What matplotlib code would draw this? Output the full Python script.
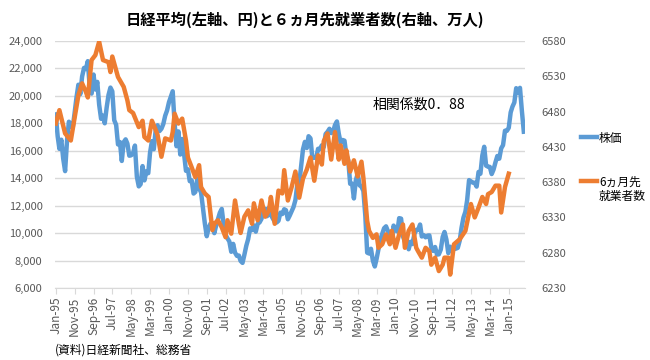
import numpy as np
import pandas as pd
import matplotlib
matplotlib.use("Agg")
import matplotlib.pyplot as plt

plt.rcParams['font.family'] = ['Noto Sans CJK JP', 'DejaVu Sans']

title = "日経平均(左軸、円)と６ヵ月先就業者数(右軸、万人)"
source = "(資料)日経新聞社、総務省"
note = "相関係数0．88"
label_stock = "株価"
label_jobs = ["6ヵ月先", "就業者数"]

# Nikkei 225, monthly, Jan-95 .. Sep-15
nikkei = [
    18650, 17053, 16140, 16807, 15437, 14517, 16678, 18117, 17913, 17655, 18744, 19868,  # 1995
    20813, 20125, 21407, 22041, 21956, 22531, 20693, 20167, 21556, 20467, 21020, 19361,  # 1996
    18330, 18557, 18003, 19151, 20069, 20605, 20331, 18229, 17888, 16459, 16636, 15259,  # 1997
    16628, 16832, 16527, 15641, 15671, 15831, 16379, 14108, 13406, 13565, 14884, 13842,  # 1998
    14499, 14368, 15837, 16702, 16112, 17530, 17862, 17437, 17605, 17942, 18558, 18934,  # 1999
    19540, 19960, 20337, 17974, 16332, 17411, 15727, 16861, 15747, 14539, 14649, 13785,  # 2000
    13843, 12883, 12999, 13934, 13262, 12969, 11860, 10713, 9774, 10366, 10697, 10542,   # 2001
    9997, 10587, 11024, 11492, 11763, 10621, 9877, 9619, 9383, 8640, 9215, 8579,         # 2002
    8339, 8363, 7972, 7831, 8425, 9083, 9563, 10344, 10219, 10560, 10101, 10677,         # 2003
    10783, 11042, 11715, 11762, 11236, 11858, 11326, 11082, 10824, 10771, 10899, 11489,  # 2004
    11388, 11740, 11669, 11009, 11277, 11584, 11900, 12413, 13574, 13607, 14872, 16111,  # 2005
    16650, 16205, 17060, 16906, 15467, 15505, 15457, 16141, 16128, 16399, 16274, 17226,  # 2006
    17383, 17604, 17288, 17400, 17876, 18138, 17249, 16569, 16786, 16738, 15680, 15308,  # 2007
    13592, 13603, 12526, 13850, 14339, 13481, 13377, 13073, 11260, 8577, 8512, 8860,     # 2008
    7994, 7568, 8110, 8828, 9523, 9958, 10357, 10493, 10133, 10035, 9346, 10546,         # 2009
    10198, 10126, 11090, 11057, 9769, 9383, 9537, 8824, 9369, 9202, 9937, 10229,         # 2010
    10238, 10624, 9755, 9850, 9694, 9816, 9833, 8955, 8700, 8988, 8435, 8455,            # 2011
    8803, 9723, 10084, 9521, 8543, 9007, 8695, 8840, 8870, 8928, 9446, 10395,            # 2012
    11139, 11559, 12398, 13861, 13775, 13677, 13668, 13389, 14456, 14328, 15662, 16291,  # 2013
    14915, 14841, 14828, 14304, 14632, 15162, 15621, 15425, 16174, 16414, 17460, 17451,  # 2014
    17674, 18798, 19207, 19520, 20563, 20236, 20585, 18890, 17388,                       # 2015
]
nikkei_dates = pd.date_range("1995-01-01", periods=len(nikkei), freq="MS")

# employment 6 months ahead (10k persons)
jobs_dates = pd.to_datetime([
    "1995-01", "1995-03", "1995-06", "1995-09", "1995-11", "1996-01", "1996-03", "1996-05",
    "1996-06", "1996-08", "1996-10", "1996-12", "1997-02", "1997-05", "1997-06", "1997-07",
    "1997-10", "1998-01", "1998-03", "1998-04", "1998-06", "1998-09", "1998-11", "1998-12",
    "1999-02", "1999-04", "1999-06", "1999-07", "1999-09", "1999-11", "2000-02", "2000-03",
    "2000-04", "2000-06", "2000-08", "2000-10", "2000-11", "2001-01", "2001-03", "2001-05",
    "2001-06", "2001-08", "2001-10", "2001-12", "2002-01", "2002-03", "2002-05", "2002-07",
    "2002-08", "2002-10", "2002-12", "2003-02", "2003-03", "2003-05", "2003-07", "2003-09",
    "2003-10", "2003-12", "2004-02", "2004-04", "2004-06", "2004-07", "2004-09", "2004-11",
    "2005-01", "2005-02", "2005-04", "2005-06", "2005-08", "2005-10", "2005-12", "2006-02",
    "2006-04", "2006-06", "2006-08", "2006-10", "2006-11", "2007-01", "2007-03", "2007-05",
    "2007-07", "2007-08", "2007-10", "2007-11", "2008-01", "2008-03", "2008-05", "2008-07",
    "2008-08", "2008-10", "2008-11", "2009-01", "2009-03", "2009-04", "2009-06", "2009-08",
    "2009-10", "2009-11", "2010-01", "2010-03", "2010-05", "2010-06", "2010-08", "2010-10",
    "2010-12", "2011-01", "2011-03", "2011-05", "2011-07", "2011-08", "2011-10", "2011-12",
    "2012-02", "2012-03", "2012-05", "2012-06", "2012-08", "2012-11", "2013-02", "2013-05",
    "2013-07", "2013-09", "2013-11", "2014-01", "2014-02", "2014-04", "2014-06", "2014-08",
    "2014-09", "2014-11", "2015-01",
])
jobs = [
    6463, 6482, 6449, 6439, 6471, 6503, 6520, 6508,
    6500, 6553, 6560, 6579, 6553, 6550, 6536, 6558,
    6529, 6515, 6496, 6482, 6478, 6458, 6467, 6444,
    6439, 6467, 6454, 6447, 6416, 6442, 6439, 6451,
    6477, 6463, 6470, 6439, 6415, 6401, 6387, 6404,
    6373, 6364, 6359, 6312, 6321, 6326, 6316, 6302,
    6326, 6307, 6354, 6321, 6308, 6331, 6340, 6321,
    6350, 6326, 6354, 6331, 6340, 6359, 6321, 6368,
    6364, 6397, 6354, 6373, 6395, 6358, 6385, 6398,
    6415, 6382, 6418, 6405, 6438, 6449, 6412, 6451,
    6412, 6432, 6406, 6425, 6395, 6411, 6388, 6409,
    6386, 6325, 6311, 6301, 6306, 6287, 6292, 6306,
    6292, 6311, 6287, 6306, 6320, 6287, 6311, 6320,
    6287, 6282, 6273, 6287, 6282, 6263, 6273, 6254,
    6263, 6273, 6273, 6249, 6292, 6299, 6311, 6349,
    6330, 6344, 6359, 6349, 6363, 6366, 6375, 6375,
    6337, 6373, 6392,
]

blue = "#5B9BD5"
orange = "#ED7D31"
grey = "#595959"
grid = "#D9D9D9"

fig = plt.figure(figsize=(6.5, 3.6), dpi=100)
ax = fig.add_axes([55 / 650, 72 / 360, 470 / 650, 247 / 360])
ax2 = ax.twinx()

l1, = ax.plot(nikkei_dates, nikkei, color=blue, lw=3.2, solid_joinstyle="round", label=label_stock)
l2, = ax2.plot(jobs_dates, jobs, color=orange, lw=3.2, solid_joinstyle="round", label=label_jobs[0])

ax.set_ylim(6000, 24000)
ax.set_yticks(np.arange(6000, 24001, 2000))
ax.yaxis.set_major_formatter(matplotlib.ticker.FuncFormatter(lambda v, p: f"{int(v):,}"))
ax2.set_ylim(6230, 6580)
ax2.set_yticks(np.arange(6230, 6581, 50))

ax.set_xlim(pd.Timestamp("1994-12-20"), pd.Timestamp("2015-09-20"))
ticks = pd.date_range("1995-01-01", "2015-01-01", freq="10MS")
ax.set_xticks(ticks)
ax.set_xticklabels([t.strftime("%b-%y") for t in ticks], rotation=90)

ax.grid(axis="y", color=grid, lw=1)
ax.set_axisbelow(True)
for a in (ax, ax2):
    for s in ("top", "left", "right"):
        a.spines[s].set_visible(False)
    a.spines["bottom"].set_color(grid)
ax2.spines["bottom"].set_visible(False)

ax.tick_params(axis="y", length=0, labelsize=8, labelcolor=grey, pad=9)
ax2.tick_params(axis="y", length=0, labelsize=8, labelcolor=grey, pad=12)
ax.tick_params(axis="x", length=4, color=grid, labelsize=8.5, labelcolor=grey, pad=2)

fig.text(305 / 650, 1 - 20 / 360, title, ha="center", va="center", fontsize=11, fontweight="bold")
fig.text(373 / 650, 1 - 105 / 360, note, ha="left", va="center", fontsize=10)
fig.text(55 / 650, 1 - 350 / 360, source, ha="left", va="center", fontsize=8.5)

leg = fig.legend(handles=[l1, l2], loc="upper left", bbox_to_anchor=(570 / 650, 1 - 121 / 360),
                 frameon=False, fontsize=8.5, handlelength=1.4, handletextpad=0.15, labelspacing=2.6)

# second line of the orange legend label, placed under the first line
fig.canvas.draw()
bb = leg.get_texts()[1].get_window_extent().transformed(fig.transFigure.inverted())
fig.text(bb.x0, bb.y0 - 0.005, label_jobs[1], ha="left", va="top", fontsize=8.5)

fig.savefig("out.png", dpi=100)
